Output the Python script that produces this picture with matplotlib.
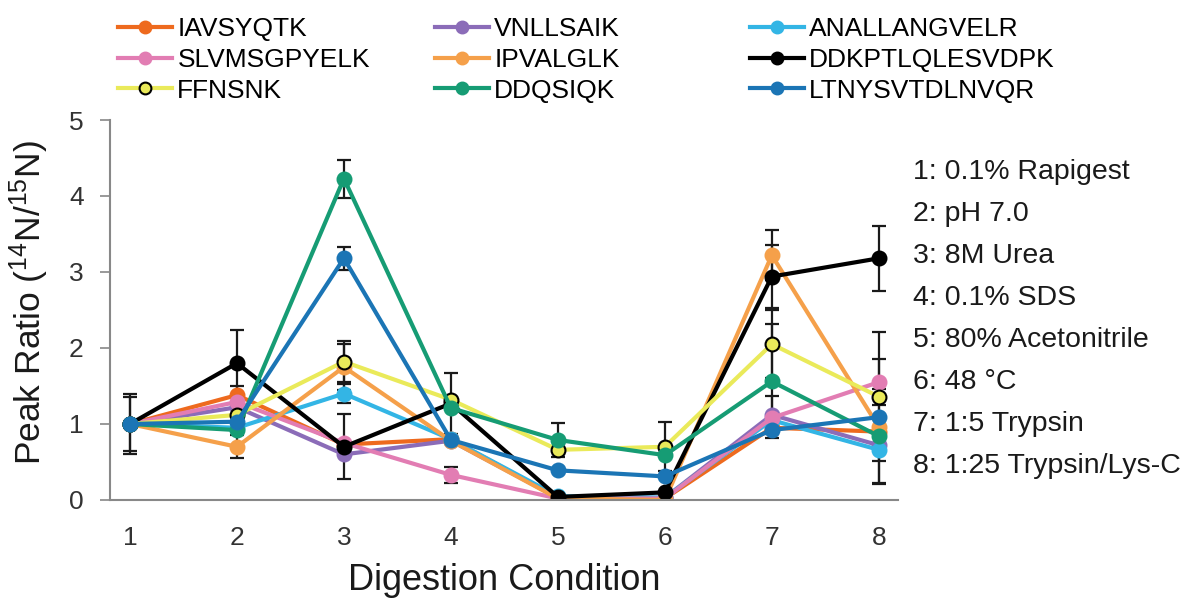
import matplotlib
matplotlib.use('Agg')
import matplotlib.pyplot as plt
from matplotlib.lines import Line2D

plt.rcParams['font.family'] = ['Liberation Sans', 'DejaVu Sans']
plt.rcParams['mathtext.default'] = 'regular'

# Digestion conditions (x axis)
conditions = [1, 2, 3, 4, 5, 6, 7, 8]
condition_labels = ['1: 0.1% Rapigest', '2: pH 7.0', '3: 8M Urea', '4: 0.1% SDS',
                    '5: 80% Acetonitrile', '6: 48 °C', '7: 1:5 Trypsin',
                    '8: 1:25 Trypsin/Lys-C']

peptides = ['IAVSYQTK', 'VNLLSAIK', 'ANALLANGVELR', 'SLVMSGPYELK', 'IPVALGLK',
            'DDKPTLQLESVDPK', 'FFNSNK', 'DDQSIQK', 'LTNYSVTDLNVQR']
colors = ['#EE6A1E', '#8B6CB8', '#33B5E5', '#E27DB3', '#F5A04A',
          '#000000', '#EAEA5A', '#169C74', '#1B75B5']

# Peak ratios (14N/15N)
iavsyqtk = [1.0, 1.38, 0.73, 0.80, 0.03, 0.02, 0.95, 0.90]
vnllsaik = [1.0, 1.22, 0.60, 0.78, 0.03, 0.03, 1.12, 0.72]
anallangvelr = [1.0, 0.95, 1.40, 0.80, 0.05, 0.03, 1.05, 0.66]
slvmsgpyelk = [1.0, 1.29, 0.75, 0.33, 0.02, 0.02, 1.08, 1.55]
ipvalglk = [1.0, 0.70, 1.75, 0.78, 0.02, 0.00, 3.22, 0.96]
ddkptlqlesvdpk = [1.0, 1.80, 0.70, 1.27, 0.04, 0.10, 2.94, 3.18]
ffnsnk = [1.0, 1.12, 1.82, 1.32, 0.66, 0.70, 2.05, 1.36]
ddqsiqk = [1.0, 0.92, 4.23, 1.21, 0.79, 0.59, 1.56, 0.84]
ltnysvtdlnvqr = [1.0, 1.03, 3.18, 0.79, 0.39, 0.31, 0.92, 1.09]

# Error bars (0 = no bar visible)
err_iavsyqtk = [0, 0.12, 0, 0, 0, 0, 0, 0]
err_vnllsaik = [0, 0, 0, 0, 0, 0, 0.25, 0]
err_anallangvelr = [0, 0, 0.13, 0, 0, 0, 0, 0.45]
err_slvmsgpyelk = [0, 0, 0, 0.10, 0, 0, 0, 0.30]
err_ipvalglk = [0, 0.15, 0.30, 0, 0, 0, 0.33, 0]
err_ddkptlqlesvdpk = [0.35, 0.44, 0.43, 0.40, 0, 0, 0.42, 0.43]
err_ffnsnk = [0, 0, 0.27, 0, 0, 0.32, 0.45, 0.85]
err_ddqsiqk = [0, 0, 0.25, 0, 0.22, 0, 0.75, 0.62]
err_ltnysvtdlnvqr = [0.40, 0, 0.15, 0, 0, 0, 0, 0]

values = [iavsyqtk, vnllsaik, anallangvelr, slvmsgpyelk, ipvalglk,
          ddkptlqlesvdpk, ffnsnk, ddqsiqk, ltnysvtdlnvqr]
errors = [err_iavsyqtk, err_vnllsaik, err_anallangvelr, err_slvmsgpyelk, err_ipvalglk,
          err_ddkptlqlesvdpk, err_ffnsnk, err_ddqsiqk, err_ltnysvtdlnvqr]

fig = plt.figure(figsize=(11.99, 6.0), dpi=100)
ax = fig.add_axes([0.0917, 0.1667, 0.6573, 0.6333])

handles = {}
for name, col, vals, errs in zip(peptides, colors, values, errors):
    edge = 'black' if name == 'FFNSNK' else col
    # error bars only where one is drawn in the original
    ex = [c for c, e in zip(conditions, errs) if e > 0]
    ey = [v for v, e in zip(vals, errs) if e > 0]
    ee = [e for e in errs if e > 0]
    if ex:
        ax.errorbar(ex, ey, yerr=ee, fmt='none', ecolor='#1a1a1a', elinewidth=1.6,
                    capsize=5, capthick=1.6, zorder=1.5)
    ax.plot(conditions, vals, color=col, linewidth=3.0, marker='o', markersize=10,
            markerfacecolor=col, markeredgecolor=edge, markeredgewidth=1.5, zorder=2)
    handles[name] = Line2D([], [], color=col, linewidth=3.0, marker='o', markersize=8.5,
                           markerfacecolor=col, markeredgecolor=edge, markeredgewidth=1.5)

ax.set_xlim(0.813, 8.18)
ax.set_ylim(0, 5)
ax.set_xticks(conditions)
ax.set_yticks([0, 1, 2, 3, 4, 5])
ax.tick_params(axis='x', length=0, labelsize=19, pad=19, colors='#333333')
ax.tick_params(axis='y', length=7, width=1.2, labelsize=19, pad=12, colors='#333333')
ax.tick_params(axis='y', color='#888888')
for s in ['top', 'right']:
    ax.spines[s].set_visible(False)
for s in ['left', 'bottom']:
    ax.spines[s].set_color('#888888')
    ax.spines[s].set_linewidth(1.5)

ax.set_xlabel('Digestion Condition', fontsize=26, color='#1a1a1a')
ax.xaxis.set_label_coords(0.5, -0.165)
ax.set_ylabel('Peak Ratio ($^{14}$N/$^{15}$N)', fontsize=25.5, color='#1a1a1a')
ax.yaxis.set_label_coords(-0.075, 0.52)

# Legend: three columns, laid out row-wise like the original
columns = [['IAVSYQTK', 'SLVMSGPYELK', 'FFNSNK'],
           ['VNLLSAIK', 'IPVALGLK', 'DDQSIQK'],
           ['ANALLANGVELR', 'DDKPTLQLESVDPK', 'LTNYSVTDLNVQR']]
col_x = [0.0984, 0.3628, 0.6255]
for names, x in zip(columns, col_x):
    fig.legend([handles[n] for n in names], names, loc='upper left',
               bbox_to_anchor=(x, 0.971), frameon=False, fontsize=19,
               borderpad=0, borderaxespad=0, handlelength=2.05, handletextpad=0.2,
               labelspacing=0.25)

# Condition key on the right
for i, lab in enumerate(condition_labels):
    fig.text(0.7615, 1 - (171.7 + i * 42.1) / 600, lab, fontsize=20.5,
             va='center', ha='left', color='#1a1a1a')

fig.savefig('out.png', dpi=100)
